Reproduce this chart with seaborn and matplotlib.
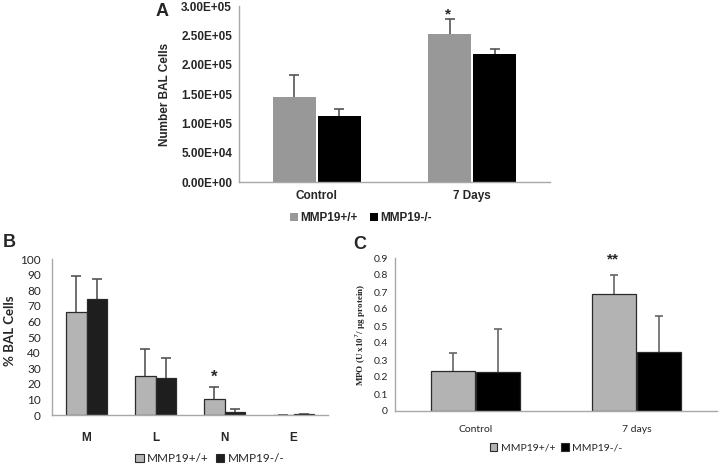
import numpy as np
import pandas as pd
import seaborn as sns
import matplotlib.pyplot as plt
from matplotlib.ticker import FuncFormatter, MultipleLocator
from matplotlib.patches import Patch

sns.set_theme(style="white")
plt.rcParams['font.family'] = ['Liberation Sans', 'DejaVu Sans']

genotypes = ["MMP19+/+", "MMP19-/-"]

# panel A: number of BAL cells
a_groups = ["Control", "7 Days"]
a_wt = [1.45e5, 2.53e5]
a_ko = [1.12e5, 2.18e5]
a_wt_err = [0.38e5, 0.24e5]
a_ko_err = [0.13e5, 0.09e5]

# panel B: % BAL cells by type
b_groups = ["M", "L", "N", "E"]
b_wt = [65.8, 25.2, 10.1, 0.0]
b_ko = [74.6, 24.0, 1.9, 0.5]
b_wt_err = [23.3, 17.0, 7.9, 0.0]
b_ko_err = [12.8, 12.8, 2.2, 0.0]

# panel C: MPO
c_groups = ["Control", "7 days"]
c_wt = [0.234, 0.687]
c_ko = [0.230, 0.347]
c_wt_err = [0.109, 0.113]
c_ko_err = [0.254, 0.210]


def make_df(groups, wt, ko):
    return pd.DataFrame({
        "group": groups * 2,
        "geno": [genotypes[0]] * len(groups) + [genotypes[1]] * len(groups),
        "value": list(wt) + list(ko),
    })


def add_errors(ax, errs, color, capsize):
    # upper error bars only, drawn behind the bars
    for cont, err in zip(ax.containers, errs):
        xs = [b.get_x() + b.get_width() / 2 for b in cont]
        ys = [b.get_height() for b in cont]
        eb = ax.errorbar(xs, ys, yerr=[np.zeros(len(err)), err], fmt="none",
                         ecolor=color, elinewidth=1.2, capsize=capsize,
                         capthick=1.2, zorder=0.5)
        eb[1][0].set_visible(False)


def style_axes(ax, spine_color="#a8a8a8"):
    for s in ["top", "right"]:
        ax.spines[s].set_visible(False)
    for s in ["left", "bottom"]:
        ax.spines[s].set_color(spine_color)
        ax.spines[s].set_linewidth(1.0)
    ax.set_xlabel("")
    ax.tick_params(axis="x", length=0)


fig = plt.figure(figsize=(7.2, 4.72), dpi=100)

# ---- panel A
axA = fig.add_axes([239 / 720, 1 - 182 / 472, 311 / 720, 176 / 472])
pal_a = ["#989898", "#000000"]
sns.barplot(data=make_df(a_groups, a_wt, a_ko), x="group", y="value", hue="geno",
            palette=pal_a, width=0.58, gap=0.04, ax=axA, legend=False,
            linewidth=0, saturation=1)
add_errors(axA, [a_wt_err, a_ko_err], "#555555", 3.5)
style_axes(axA)
axA.set_xlim(-0.5, 1.5)
axA.set_ylim(0, 3e5)
axA.yaxis.set_major_locator(MultipleLocator(5e4))
axA.yaxis.set_major_formatter(FuncFormatter(lambda v, p: f"{v:.2E}"))
axA.tick_params(axis="y", length=3, width=0.8, color="#a8a8a8", pad=2,
                labelsize=8.5)
axA.tick_params(axis="x", labelsize=8.5, pad=6)
for lab in axA.get_yticklabels() + axA.get_xticklabels():
    lab.set_fontweight("bold")
axA.set_ylabel("Number BAL Cells", fontsize=8.5, fontweight="bold", labelpad=7)
axA.text(1.0 - 0.5 * 0.58 / 2 - 0.01, 2.85e5, "*", ha="center", va="center",
         fontsize=11, fontweight="bold")
hA = [Patch(facecolor=c, edgecolor="none") for c in pal_a]
axA.legend(hA, genotypes, loc="center", bbox_to_anchor=(0.392, -0.205), ncol=2,
           frameon=False, handlelength=0.7, handleheight=0.7, handletextpad=0.2,
           columnspacing=1.0, prop={"size": 8.5, "weight": "bold"})

# ---- panel B
bc_font = ["Lato", "DejaVu Sans"]
axB = fig.add_axes([52 / 720, 1 - 415 / 472, 276 / 720, 156 / 472])
pal_b = ["#b4b4b4", "#1e1e1e"]
sns.barplot(data=make_df(b_groups, b_wt, b_ko), x="group", y="value", hue="geno",
            palette=pal_b, width=0.58, gap=0.0, ax=axB, legend=False,
            edgecolor="#2a2a2a", linewidth=0.9, saturation=1)
add_errors(axB, [b_wt_err, b_ko_err], "#555555", 3.5)
style_axes(axB)
axB.set_xlim(-0.5, 3.5)
axB.set_ylim(0, 100)
axB.yaxis.set_major_locator(MultipleLocator(10))
axB.tick_params(axis="y", length=0, pad=8, labelsize=8.5)
axB.tick_params(axis="x", labelsize=8.5, pad=12)
for lab in axB.get_yticklabels():
    lab.set_family(bc_font)
for lab in axB.get_xticklabels():
    lab.set_fontweight("bold")
axB.set_ylabel("% BAL Cells", fontsize=9.5, fontweight="bold", family=bc_font)
axB.yaxis.set_label_coords(-0.132, 0.54)
axB.text(2 - 0.145, 24, "*", ha="center", va="center", fontsize=12,
         fontweight="bold")
hB = [Patch(facecolor=c, edgecolor="#2a2a2a", linewidth=0.8) for c in pal_b]
axB.legend(hB, genotypes, loc="center", bbox_to_anchor=(0.572, -0.282), ncol=2,
           frameon=False, handlelength=0.7, handleheight=0.7, handletextpad=0.3,
           columnspacing=0.6, prop={"size": 8.5, "family": bc_font})

# ---- panel C
axC = fig.add_axes([395 / 720, 1 - 411 / 472, 322 / 720, 153 / 472])
pal_c = ["#b3b3b3", "#000000"]
sns.barplot(data=make_df(c_groups, c_wt, c_ko), x="group", y="value", hue="geno",
            palette=pal_c, width=0.56, gap=0.04, ax=axC, legend=False,
            edgecolor="#2a2a2a", linewidth=0.9, saturation=1)
add_errors(axC, [c_wt_err, c_ko_err], "#666666", 3)
style_axes(axC)
axC.set_xlim(-0.5, 1.5)
axC.set_ylim(0, 0.9)
axC.yaxis.set_major_locator(MultipleLocator(0.1))
axC.yaxis.set_major_formatter(FuncFormatter(lambda v, p: f"{v:g}"))
axC.tick_params(axis="y", length=3, width=0.8, color="#a8a8a8", pad=2,
                labelsize=7.5)
axC.tick_params(axis="x", labelsize=7.5, pad=10)
for lab in axC.get_yticklabels() + axC.get_xticklabels():
    lab.set_family(bc_font)
axC.set_ylabel("MPO (U x10$^{7}$/ µg protein)", fontsize=6.5, fontweight="bold",
               family=["Liberation Serif", "DejaVu Serif"], labelpad=4)
axC.text(1 - 0.145, 0.89, "**", ha="center", va="center", fontsize=11,
         fontweight="bold")
hC = [Patch(facecolor=c, edgecolor="#2a2a2a", linewidth=0.8) for c in pal_c]
axC.legend(hC, genotypes, loc="center", bbox_to_anchor=(0.5, -0.242), ncol=2,
           frameon=False, handlelength=0.7, handleheight=0.7, handletextpad=0.3,
           columnspacing=0.6, prop={"size": 7.5, "family": bc_font})

# panel letters
fig.text(162 / 720, 1 - 12 / 472, "A", fontsize=13, fontweight="bold",
         ha="center", va="center")
fig.text(9 / 720, 1 - 243 / 472, "B", fontsize=13, fontweight="bold",
         ha="center", va="center")
fig.text(360 / 720, 1 - 245 / 472, "C", fontsize=13, fontweight="bold",
         ha="center", va="center")

fig.savefig("out.png", dpi=100)
